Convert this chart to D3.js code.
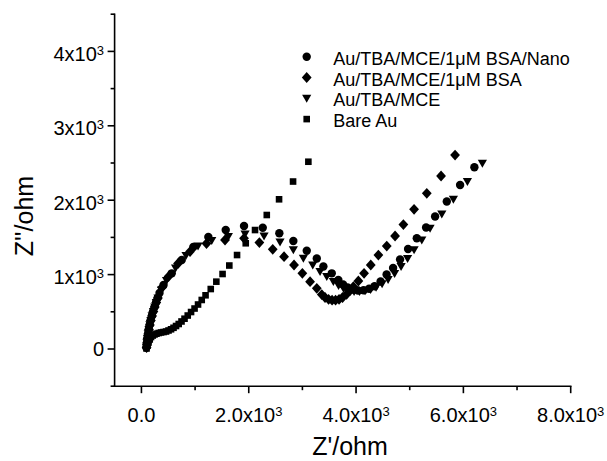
<!DOCTYPE html>
<html><head><meta charset="utf-8">
<script src="https://cdn.jsdelivr.net/npm/d3@7"></script>
<style>
body{margin:0;background:#fff}
svg{display:block}
text{font-family:"Liberation Sans",Arial,Helvetica,sans-serif;fill:#000}
</style>
</head><body>
<svg id="chart" width="607" height="461"></svg>
<script>
// ---------- data ----------
const seriesNames = ["Au/TBA/MCE/1\u03BCM BSA/Nano", "Au/TBA/MCE/1\u03BCM BSA", "Au/TBA/MCE", "Bare Au"];
const seriesSymbols = ["circle", "diamond", "triangle", "square"];

const nanoX = [91,101,110,123,136,153,171,194,218,244,272,302,337,412,565,751,967,1247,1571,1912,2261,2570,2831,3081,3268,3391,3547,3670,3758,3842,3935,4037,4140,4242,4345,4457,4569,4690,4820,4969,5132,5305,5473,5691,5939,6205];
const nanoY = [20,81,141,202,262,323,383,444,504,564,625,685,753,860,1017,1196,1371,1505,1599,1653,1630,1555,1452,1321,1216,1109,1017,927,867,827,800,786,789,809,844,907,1001,1089,1203,1344,1488,1633,1781,1982,2204,2442];

const bsaX = [96,106,115,128,141,158,176,199,223,249,277,307,384,505,682,906,1213,1558,1912,2198,2447,2658,2844,2999,3143,3268,3361,3422,3488,3553,3618,3683,3748,3823,3888,3950,4043,4149,4274,4416,4572,4727,4882,5081,5318,5584,5845];
const bsaY = [20,81,141,202,262,323,383,444,504,564,625,685,827,974,1149,1310,1418,1465,1488,1431,1340,1241,1129,1017,905,816,732,692,668,656,656,668,692,735,786,837,914,1017,1129,1263,1384,1519,1673,1878,2093,2325,2607];

const mceX = [95,104,114,127,142,158,177,199,224,250,278,309,375,468,636,831,1055,1310,1620,1931,2285,2583,2831,3018,3193,3329,3454,3577,3674,3767,3860,3963,4065,4168,4270,4373,4485,4597,4718,4839,4960,5081,5225,5379,5598,5814,6075,6354];
const mceY = [20,81,141,202,262,323,383,444,504,564,625,685,793,921,1089,1257,1384,1458,1512,1546,1519,1438,1331,1219,1129,1039,972,905,853,813,786,773,770,780,797,827,874,934,1015,1109,1216,1331,1465,1620,1814,2012,2249,2496];

const bareX = [95,114,132,155,179,211,244,281,322,365,412,459,505,552,598,645,695,747,803,863,925,990,1055,1124,1195,1292,1396,1512,1638,1782,1944,2117,2336,2565,2826,3111];
const bareY = [7,47,87,128,161,181,195,206,215,222,228,235,249,265,285,309,336,370,407,450,497,544,598,659,722,806,905,1008,1122,1263,1421,1599,1801,2012,2251,2517];

const xMajorTicks = [0, 2000, 4000, 6000, 8000];
const xMinorTicks = [1000, 3000, 5000, 7000];
const xTickMant = ["0.0", "2.0x10", "4.0x10", "6.0x10", "8.0x10"];
const xTickExp  = ["", "3", "3", "3", "3"];

const yMajorTicks = [0, 1000, 2000, 3000, 4000];
const yMinorTicks = [-500, 500, 1500, 2500, 3500, 4500];
const yTickMant = ["0", "1x10", "2x10", "3x10", "4x10"];
const yTickExp  = ["", "3", "3", "3", "3"];

const xDomain = [-500, 8000];
const yDomain = [-500, 4500];
const xTitle = "Z'/ohm";
const yTitle = "Z''/ohm";

// ---------- layout ----------
const svg = d3.select("#chart");
const x = d3.scaleLinear().domain(xDomain).range([114.6, 570.7]);
const y = d3.scaleLinear().domain(yDomain).range([386.2, 14.2]);
const axisW = 1.6;

const g = svg.append("g");

g.append("line").attr("x1", x(xDomain[0])).attr("x2", x(xDomain[1]))
  .attr("y1", y(yDomain[0])).attr("y2", y(yDomain[0]))
  .attr("stroke", "#000").attr("stroke-width", axisW).attr("stroke-linecap", "square");
g.append("line").attr("x1", x(xDomain[0])).attr("x2", x(xDomain[0]))
  .attr("y1", y(yDomain[0])).attr("y2", y(yDomain[1]))
  .attr("stroke", "#000").attr("stroke-width", axisW).attr("stroke-linecap", "square");

g.selectAll(".xmaj").data(xMajorTicks).join("line")
  .attr("x1", d => x(d)).attr("x2", d => x(d))
  .attr("y1", y(yDomain[0])).attr("y2", y(yDomain[0]) + 7)
  .attr("stroke", "#000").attr("stroke-width", axisW);
g.selectAll(".xmin").data(xMinorTicks).join("line")
  .attr("x1", d => x(d)).attr("x2", d => x(d))
  .attr("y1", y(yDomain[0])).attr("y2", y(yDomain[0]) + 4)
  .attr("stroke", "#000").attr("stroke-width", axisW);

g.selectAll(".ymaj").data(yMajorTicks).join("line")
  .attr("y1", d => y(d)).attr("y2", d => y(d))
  .attr("x1", x(xDomain[0])).attr("x2", x(xDomain[0]) - 7)
  .attr("stroke", "#000").attr("stroke-width", axisW);
g.selectAll(".ymin").data(yMinorTicks).join("line")
  .attr("y1", d => y(d)).attr("y2", d => y(d))
  .attr("x1", x(xDomain[0])).attr("x2", x(xDomain[0]) - 4)
  .attr("stroke", "#000").attr("stroke-width", axisW);

xMajorTicks.forEach((t, i) => {
  const tx = g.append("text").attr("x", x(t)).attr("y", y(yDomain[0]) + 35.5)
    .attr("text-anchor", "middle").attr("font-size", 20);
  tx.append("tspan").text(xTickMant[i]);
  if (xTickExp[i]) tx.append("tspan").attr("font-size", 13).attr("dy", -6).text(xTickExp[i]);
});

yMajorTicks.forEach((t, i) => {
  const ty = g.append("text").attr("x", 104).attr("y", y(t) + (yTickExp[i] ? 9.4 : 7))
    .attr("text-anchor", "end").attr("font-size", 20);
  ty.append("tspan").text(yTickMant[i]);
  if (yTickExp[i]) ty.append("tspan").attr("font-size", 13).attr("dy", -6).text(yTickExp[i]);
});

g.append("text").attr("x", 350).attr("y", 455).attr("text-anchor", "middle")
  .attr("font-size", 25).text(xTitle);
g.append("text").attr("transform", "translate(33,216) rotate(-90)")
  .attr("text-anchor", "middle").attr("font-size", 25).text(yTitle);

const symPath = {
  circle: d3.symbol(d3.symbolCircle, Math.PI * 4.2 * 4.2)(),
  square: d3.symbol(d3.symbolSquare, 6.6 * 6.6)(),
  diamond: "M0,-5.4L4.9,0L0,5.4L-4.9,0Z",
  triangle: "M-4.6,-3.6L4.6,-3.6L0,4.4Z"
};

const allSeries = [
  {xs: bareX, ys: bareY, sym: seriesSymbols[3]},
  {xs: mceX, ys: mceY, sym: seriesSymbols[2]},
  {xs: bsaX, ys: bsaY, sym: seriesSymbols[1]},
  {xs: nanoX, ys: nanoY, sym: seriesSymbols[0]}
];

allSeries.forEach(s => {
  const pts = s.xs.map((v, i) => [v, s.ys[i]]);
  g.append("g").selectAll("path").data(pts).join("path")
    .attr("d", symPath[s.sym])
    .attr("transform", d => `translate(${x(d[0])},${y(d[1])})`)
    .attr("fill", "#000");
});

const leg = g.append("g").attr("transform", "translate(306.7,56.7)");
seriesNames.forEach((name, i) => {
  const row = leg.append("g").attr("transform", `translate(0,${i * 20.8})`);
  row.append("path").attr("d", symPath[seriesSymbols[i]]).attr("fill", "#000");
  row.append("text").attr("x", 26.6).attr("y", 8).attr("font-size", 18).text(name);
});
</script>
</body></html>
